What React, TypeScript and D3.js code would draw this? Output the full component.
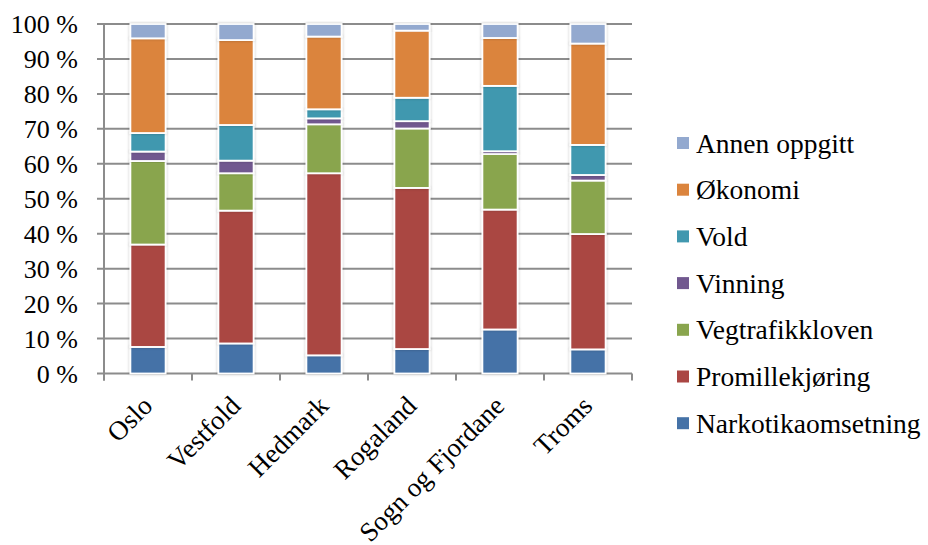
import React from "react";
import * as d3 from "d3";

const categories = ["Oslo", "Vestfold", "Hedmark", "Rogaland", "Sogn og Fjordane", "Troms"];
const seriesNames = ["Narkotikaomsetning", "Promillekjøring", "Vegtrafikkloven", "Vinning", "Vold", "Økonomi", "Annen oppgitt"];
const narkotika = [7.6, 8.6, 5.2, 7.0, 12.6, 6.9];
const promille = [29.3, 38.0, 52.1, 46.1, 34.3, 33.0];
const vegtrafikk = [23.9, 10.7, 14.0, 17.0, 15.9, 15.3];
const vinning = [2.7, 3.6, 1.7, 2.1, 0.8, 1.6];
const vold = [5.3, 10.2, 2.6, 6.7, 18.7, 8.6];
const okonomi = [27.1, 24.3, 20.8, 19.2, 13.7, 29.0];
const annen = [4.1, 4.6, 3.6, 1.9, 4.0, 5.6];
const yTicks = [0, 10, 20, 30, 40, 50, 60, 70, 80, 90, 100];
const colors = ["#4572A7", "#AA4643", "#89A54E", "#71588F", "#4198AF", "#DB843D", "#93A9CF"];

const seriesValues = [narkotika, promille, vegtrafikk, vinning, vold, okonomi, annen];

export default function App() {
  const W = 928, H = 545;
  const left = 104, right = 632, top = 24, bottom = 373.5;
  const fontStyle = { fontFamily: "Liberation Serif" };
  const x = d3.scaleBand().domain(categories).range([left, right]).paddingInner(0.6).paddingOuter(0.3);
  const xOuter = d3.scaleBand().domain(categories).range([left, right]);
  const y = d3.scaleLinear().domain([0, 100]).range([bottom, top]);

  const table = categories.map((c, i) => {
    const row: any = { cat: c };
    seriesNames.forEach((s, j) => (row[s] = seriesValues[j][i]));
    return row;
  });
  const stacked = d3.stack().keys(seriesNames)(table);

  const legendNames = [...seriesNames].reverse();
  const legendColors = [...colors].reverse();

  return (
    <svg width={W} height={H} style={{ position: "absolute", left: 0, top: 0, background: "#fff" }}>
      <defs>
        <filter id="sh" x="-20%" y="-20%" width="140%" height="140%">
          <feGaussianBlur in="SourceAlpha" stdDeviation="1.5" />
          <feOffset dx="0" dy="0" result="b" />
          <feComponentTransfer><feFuncA type="linear" slope="0.25" /></feComponentTransfer>
          <feMerge><feMergeNode /><feMergeNode in="SourceGraphic" /></feMerge>
        </filter>
      </defs>
      {yTicks.map((t) => (
        <g key={t}>
          <line x1={97} x2={right} y1={y(t)} y2={y(t)} stroke="#8c8c8c" strokeWidth={2} />
          <text x={78} y={y(t)} dy="0.35em" textAnchor="end" style={fontStyle} fontSize={26} fill="#000">
            {t} %
          </text>
        </g>
      ))}
      <line x1={left} x2={left} y1={top} y2={bottom + 7} stroke="#8c8c8c" strokeWidth={2} />
      <line x1={right} x2={right} y1={bottom} y2={bottom + 7} stroke="#8c8c8c" strokeWidth={2} />
      {categories.map((c) => (
        <line key={c} x1={xOuter(c)!} x2={xOuter(c)!} y1={bottom} y2={bottom + 7} stroke="#8c8c8c" strokeWidth={2} />
      ))}
      {stacked.map((layer, j) => (
        <g key={layer.key}>
          {layer.map((d, i) => (
            <rect
              key={i}
              x={x(categories[i])!}
              width={x.bandwidth()}
              y={y(d[1])}
              height={y(d[0]) - y(d[1])}
              fill={colors[j]}
              stroke="#fff"
              strokeWidth={1.8}
              filter="url(#sh)"
            />
          ))}
        </g>
      ))}
      {categories.map((c) => {
        const cx = x(c)! + x.bandwidth() / 2;
        return (
          <text
            key={c}
            transform={`translate(${cx + 6},${bottom + 34}) rotate(-45)`}
            textAnchor="end"
            style={fontStyle}
            fontSize={27}
            fill="#000"
          >
            {c}
          </text>
        );
      })}
      {legendNames.map((n, i) => {
        const cy = 143 + i * 46.7;
        return (
          <g key={n}>
            <rect x={677} y={cy - 6} width={12} height={12} fill={legendColors[i]} />
            <text x={696} y={cy} dy="0.35em" style={fontStyle} fontSize={27.5} fill="#000">
              {n}
            </text>
          </g>
        );
      })}
    </svg>
  );
}
